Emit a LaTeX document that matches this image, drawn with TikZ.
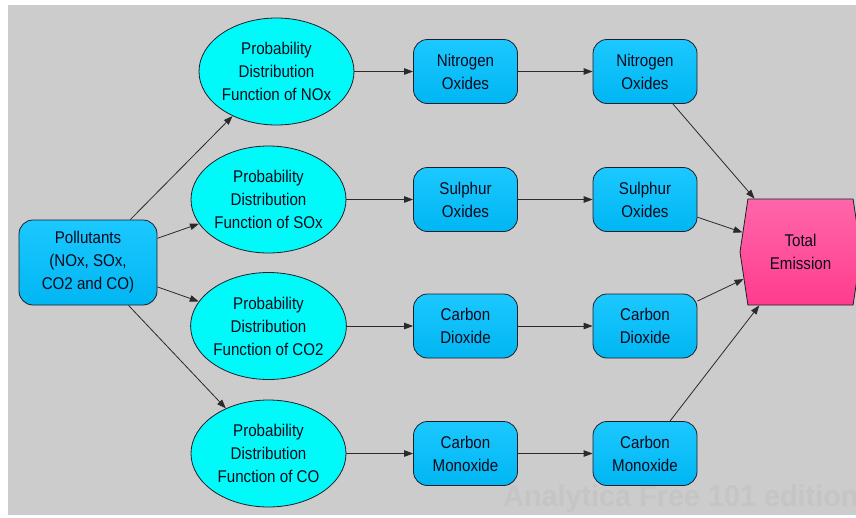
\documentclass[tikz,border=0pt]{standalone}
\usepackage{fontspec}
\setmainfont{Liberation Sans}[FakeStretch=0.89]
\newfontfamily\wmfont{Liberation Sans}[FakeStretch=0.96]
\usetikzlibrary{shapes.geometric,shapes.symbols,arrows.meta}
\definecolor{bg}{HTML}{CCCCCC}
\definecolor{edge}{HTML}{1E1E28}
\definecolor{arrc}{HTML}{2A2A2A}
\definecolor{txt}{HTML}{0A0A1C}
\definecolor{ecyan}{HTML}{00FAFA}
\definecolor{btop}{HTML}{1CC8FF}
\definecolor{bbot}{HTML}{00B6F2}
\definecolor{ptop}{HTML}{FF66AA}
\definecolor{pbot}{HTML}{FF3C8E}
\definecolor{wm}{HTML}{C5C5C5}
\begin{document}
\begin{tikzpicture}[x=1pt,y=-1pt,
  lbl/.style={font=\fontsize{17}{23}\selectfont, text=txt, align=center, inner sep=0pt},
  pdf/.style={lbl, ellipse, draw=edge, line width=0.8pt, fill=ecyan, minimum width=155pt, minimum height=107pt},
  var/.style={lbl, rounded corners=14pt, draw=edge, line width=0.8pt, top color=btop, bottom color=bbot, minimum width=104pt, minimum height=64pt},
  obj/.style={lbl, signal, signal to=west and east, signal pointer angle=163, draw=edge, line width=0.8pt, top color=ptop, bottom color=pbot, minimum width=121pt, minimum height=106pt},
  arr/.style={draw=arrc, line width=0.8pt, -{Triangle[length=9pt,width=6.5pt]}}
]
\useasboundingbox (0,0) rectangle (856,517);
\clip (0,0) rectangle (856,517);
\fill[white] (0,0) rectangle (856,517);
\fill[bg] (8,5) rectangle (856,515);

\node[anchor=base west, inner sep=0pt, font=\wmfont\bfseries\fontsize{30}{34}\selectfont, text=wm] (wm) at (503,506) {Analytica Free 101 edition};

\node[var, minimum width=138pt, minimum height=85pt] (P) at (88,262.5) {Pollutants\\(NOx, SOx,\\CO2 and CO)};

\node[pdf] (E1) at (276.5,71.5) {Probability\\Distribution\\Function of NOx};
\node[pdf] (E2) at (268.5,199.5) {Probability\\Distribution\\Function of SOx};
\node[pdf] (E3) at (268.5,326) {Probability\\Distribution\\Function of CO2};
\node[pdf] (E4) at (268.5,453.5) {Probability\\Distribution\\Function of CO};

\node[var] (A1) at (465.5,71.5) {Nitrogen\\Oxides};
\node[var] (A2) at (465.5,199.5) {Sulphur\\Oxides};
\node[var] (A3) at (465.5,326) {Carbon\\Dioxide};
\node[var] (A4) at (465.5,453.5) {Carbon\\Monoxide};

\node[var] (B1) at (645,71.5) {Nitrogen\\Oxides};
\node[var] (B2) at (645,199.5) {Sulphur\\Oxides};
\node[var] (B3) at (645,326) {Carbon\\Dioxide};
\node[var] (B4) at (645,453.5) {Carbon\\Monoxide};

\node[obj] (T) at (800.5,252) {Total\\Emission};

\foreach \i in {1,2,3,4} {
  \draw[arr] (P) -- (E\i);
  \draw[arr] (E\i) -- (A\i);
  \draw[arr] (A\i) -- (B\i);
  \draw[arr] (B\i) -- (T);
}
\end{tikzpicture}
\end{document}
